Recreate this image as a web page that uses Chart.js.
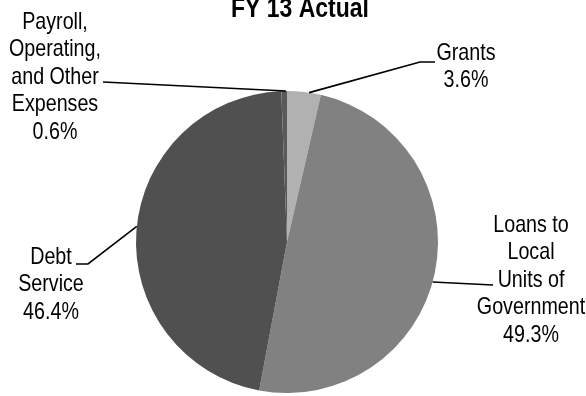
<!DOCTYPE html>
<html>
<head>
<meta charset="utf-8">
<script src="https://cdn.jsdelivr.net/npm/chart.js@4.4.0/dist/chart.umd.min.js"></script>
<style>
  html, body { margin: 0; padding: 0; background: #fff; }
  canvas { display: block; }
</style>
</head>
<body>
<canvas id="pie" width="586" height="396"></canvas>
<script>
// FY 13 actual spending, clockwise from 12 o'clock
const categories = ['Grants', 'Loans to Local Units of Government', 'Debt Service', 'Payroll, Operating, and Other Expenses'];
const shares = [3.6, 49.3, 46.4, 0.6];
const labelLines = [
  ['Grants'],
  ['Loans to', 'Local', 'Units of', 'Government'],
  ['Debt', 'Service'],
  ['Payroll,', 'Operating,', 'and Other', 'Expenses']
];
const sliceColors = ['#b1b1b1', '#818181', '#505050', '#5a5a5a'];

// callout text centre, first line y, where along the slice the leader starts, and its bends
const callouts = [
  { cx: 466, top: 53, at: 0.65, path: [[420, 62], [435, 62]] },
  { cx: 531, top: 225, at: 0.52, path: [[493, 285]] },
  { cx: 51, top: 257, at: 0.51, path: [[88, 264], [76, 264]] },
  { cx: 55, top: 22, at: 0.8, path: [[103, 82]] }
];
const LINE_H = 27.5;

// use a real narrow face if there is one, otherwise squeeze the regular one
const probe = document.createElement('canvas').getContext('2d');
function widthOf(font) { probe.font = font; return probe.measureText('Government 0123').width; }
const hasNarrow = widthOf('22px "Liberation Sans Narrow", monospace') !== widthOf('22px monospace');
const family = hasNarrow ? '"Liberation Sans Narrow"' : '"Liberation Sans"';
const squeeze = hasNarrow ? 1 : 0.82;

function drawText(ctx, text, x, y, font) {
  ctx.save();
  ctx.font = font;
  ctx.translate(x, y);
  ctx.scale(squeeze, 1);
  ctx.fillText(text, 0, 0);
  ctx.restore();
}

const calloutPlugin = {
  id: 'callouts',
  afterDraw(chart) {
    const ctx = chart.ctx;
    const arcs = chart.getDatasetMeta(0).data;
    ctx.save();
    ctx.fillStyle = '#000';
    ctx.textAlign = 'center';
    ctx.textBaseline = 'middle';

    drawText(ctx, 'FY 13 Actual', 300, 9, 'bold 28px ' + family);

    arcs.forEach((arc, i) => {
      const { x, y, startAngle, endAngle, outerRadius } = arc.getProps(['x', 'y', 'startAngle', 'endAngle', 'outerRadius'], true);
      const c = callouts[i];
      const a = startAngle + (endAngle - startAngle) * c.at;
      ctx.beginPath();
      ctx.moveTo(x + outerRadius * Math.cos(a), y + outerRadius * Math.sin(a));
      c.path.forEach(p => ctx.lineTo(p[0], p[1]));
      ctx.lineWidth = 1.6;
      ctx.strokeStyle = '#000';
      ctx.stroke();

      const lines = labelLines[i].concat(shares[i].toFixed(1) + '%');
      lines.forEach((t, k) => drawText(ctx, t, c.cx, c.top + k * LINE_H, '24px ' + family));
    });
    ctx.restore();
  }
};

new Chart(document.getElementById('pie'), {
  type: 'pie',
  data: {
    labels: categories,
    datasets: [{
      data: shares,
      backgroundColor: sliceColors,
      borderWidth: 0,
      hoverOffset: 0
    }]
  },
  options: {
    responsive: false,
    animation: false,
    layout: { padding: { left: 136, right: 148, top: 91, bottom: 3 } },
    plugins: {
      legend: { display: false },
      title: { display: false },
      tooltip: { enabled: false }
    }
  },
  plugins: [calloutPlugin]
});
</script>
</body>
</html>
